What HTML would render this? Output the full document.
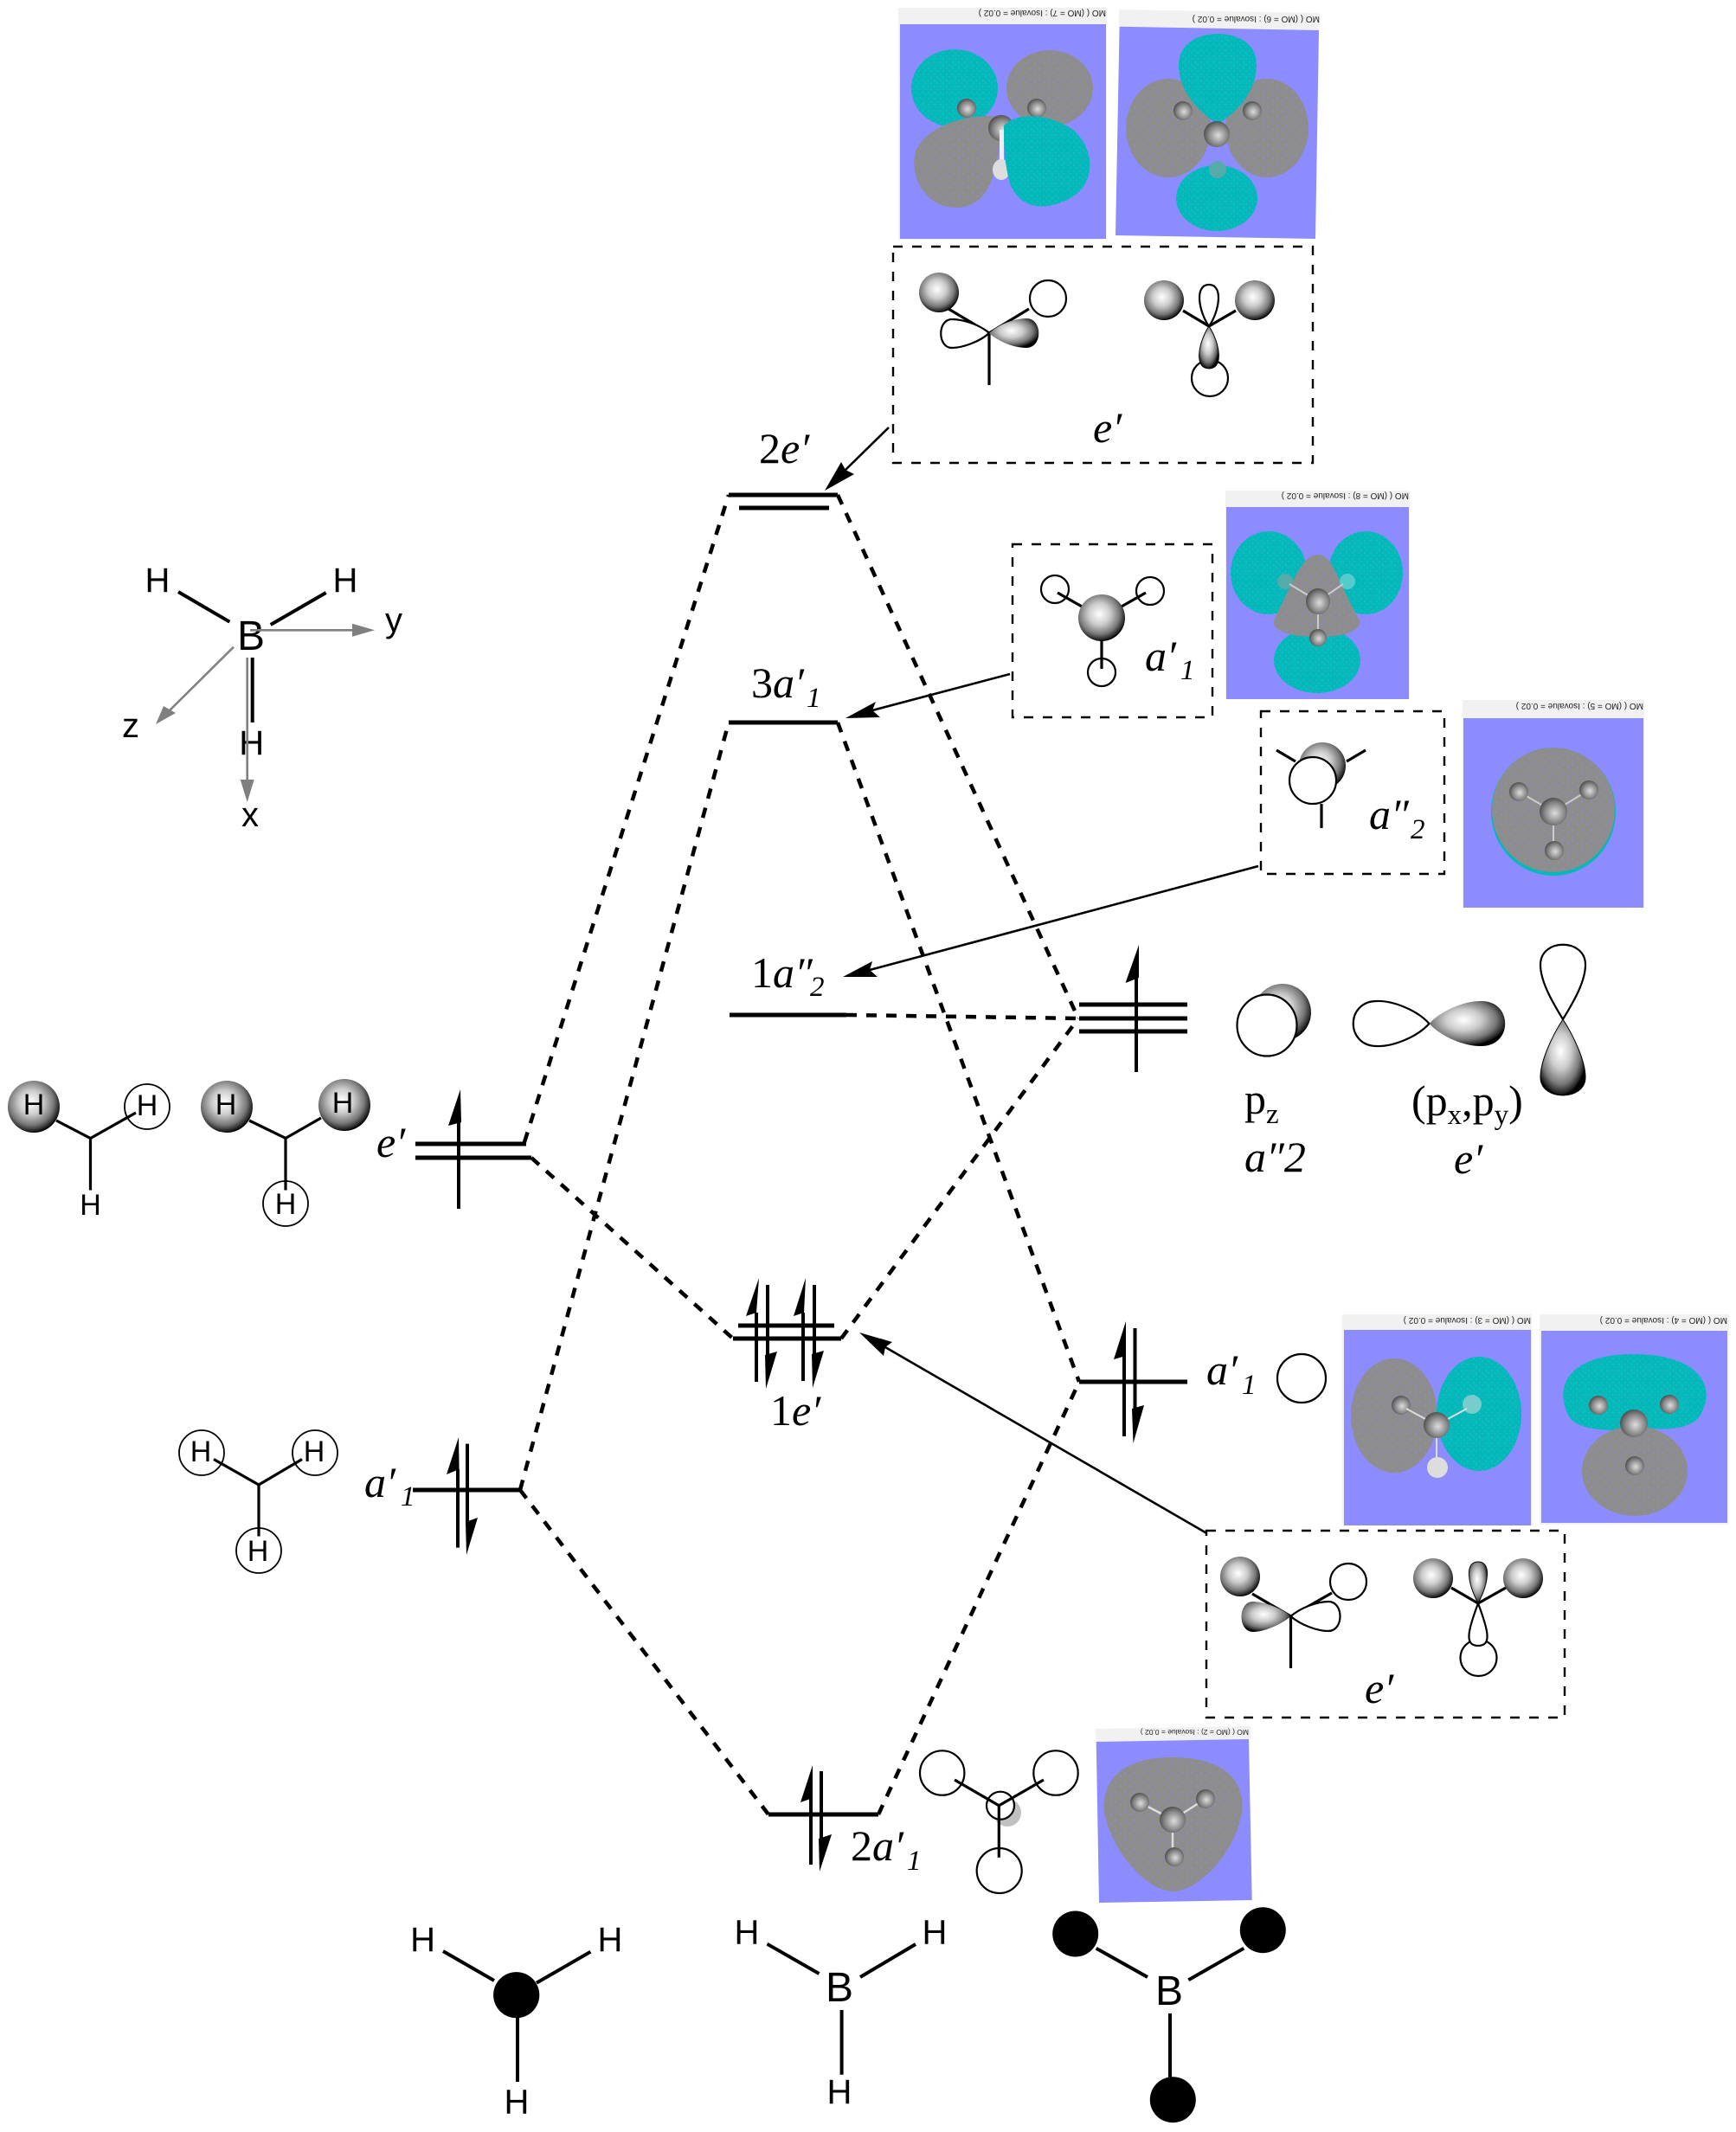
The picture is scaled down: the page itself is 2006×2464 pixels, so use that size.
<!DOCTYPE html>
<html><head><meta charset="utf-8"><title>BH3 MO diagram</title>
<style>
html,body{margin:0;padding:0;background:#fff}
svg{display:block}
text{fill:#000}
.s{font-family:"Liberation Serif",serif;font-size:50px}
.i{font-style:italic}
.sub{font-family:"Liberation Serif",serif;font-style:italic;font-size:33px}
.h{font-family:"Liberation Sans",sans-serif;font-size:34px;text-anchor:middle}
.l{font-family:"Liberation Sans",sans-serif;font-size:40px;text-anchor:middle}
.b{font-family:"Liberation Sans",sans-serif;font-size:48px;text-anchor:middle}
.mo{font-family:"Liberation Sans",sans-serif;font-size:10px;fill:#222}
.lv{stroke:#000;stroke-width:5;fill:none}
.st{stroke:#000;stroke-width:4;fill:none}
.bd{stroke:#000;stroke-width:3.2;fill:none}
.bk{stroke:#000;stroke-width:4;fill:none}
.da{stroke:#000;stroke-width:4.5;stroke-dasharray:12 11;fill:none}
.bx{stroke:#000;stroke-width:2.4;stroke-dasharray:11 11;fill:none}
.ar{stroke:#000;stroke-width:2.6;fill:none}
.gy{stroke:#808080;stroke-width:2.6;fill:none}
.wh{fill:#fff;stroke:#000;stroke-width:2.2}
</style></head>
<body>
<svg xmlns="http://www.w3.org/2000/svg" width="2006" height="2464" viewBox="0 0 2006 2464">
<defs>
<radialGradient id="ball" cx="0.45" cy="0.42" r="0.58">
<stop offset="0" stop-color="#fff"/><stop offset="0.4" stop-color="#ccc"/><stop offset="0.75" stop-color="#777"/><stop offset="0.95" stop-color="#222"/><stop offset="1" stop-color="#000"/>
</radialGradient>
<radialGradient id="atom" cx="0.55" cy="0.55" r="0.6">
<stop offset="0" stop-color="#ddd"/><stop offset="0.6" stop-color="#888"/><stop offset="1" stop-color="#444"/>
</radialGradient>
<pattern id="gp" width="11" height="11" patternUnits="userSpaceOnUse">
<rect width="11" height="11" fill="#8d8d8d"/><circle cx="2" cy="3" r=".7" fill="#8c8cff"/><circle cx="8" cy="7" r=".7" fill="#8c8cff"/>
</pattern>
<pattern id="tp" width="7" height="7" patternUnits="userSpaceOnUse">
<rect width="7" height="7" fill="#00b9b9"/><circle cx="2" cy="2" r=".8" fill="#55a8d8"/><circle cx="5" cy="5" r=".7" fill="#55a8d8"/>
</pattern>
</defs>

<!-- MO 7 -->
<rect x="1038" y="9" width="241" height="268" fill="#f1f1f1"/>
<rect x="1040" y="28" width="238" height="248" fill="#8c8cff"/>
<text class="mo" transform="translate(1278,12) rotate(180)">MO ( (MO = 7) : Isovalue = 0.02 )</text>
<ellipse cx="1103" cy="102" rx="50" ry="45" fill="url(#tp)"/>
<ellipse cx="1213" cy="102" rx="50" ry="44" fill="url(#gp)"/>
<circle cx="1117" cy="125" r="11" fill="url(#atom)"/>
<circle cx="1198" cy="125" r="11" fill="url(#atom)"/>
<path d="M1157,140 C1155,180 1150,240 1105,240 C1070,240 1050,205 1058,175 C1070,145 1120,130 1157,135Z" fill="url(#gp)"/>
<circle cx="1157" cy="148" r="15" fill="url(#atom)"/>
<rect x="1155" y="150" width="5" height="40" fill="#eee"/>
<ellipse cx="1157" cy="196" rx="10" ry="12" fill="#ddd"/>
<path d="M1160,145 C1175,130 1210,130 1240,150 C1268,175 1265,215 1235,230 C1205,245 1180,240 1168,215 C1160,190 1160,165 1160,145Z" fill="url(#tp)"/>

<!-- MO 6 -->
<polygon points="1293,11 1525,15 1524,35 1293,31" fill="#f1f1f1"/>
<polygon points="1293.6,30.7 1524,35 1520,276 1289,272" fill="#8c8cff"/>
<text class="mo" transform="translate(1525,19) rotate(180)">MO ( (MO = 6) : Isovalue = 0.02 )</text>
<ellipse cx="1350" cy="148" rx="49" ry="57" fill="url(#gp)"/>
<ellipse cx="1464" cy="148" rx="48" ry="57" fill="url(#gp)"/>
<circle cx="1367" cy="128" r="11" fill="url(#atom)"/>
<circle cx="1447" cy="128" r="11" fill="url(#atom)"/>
<path d="M1407,143 C1385,130 1362,105 1362,75 C1362,50 1385,39 1407,39 C1430,39 1452,50 1452,75 C1452,105 1430,130 1407,143Z" fill="url(#tp)"/>
<circle cx="1406" cy="155" r="15" fill="url(#atom)"/>
<ellipse cx="1406" cy="229" rx="47" ry="38" fill="url(#tp)"/>
<circle cx="1407" cy="196" r="10" fill="#5aa"/>

<!-- top e' box -->
<rect x="1032" y="285" width="485" height="250" class="bx"/>
<path d="M1143,385 L1096,357 M1143,385 L1189,357 M1143,385 V445" class="bd"/>
<circle cx="1085" cy="338" r="23" fill="url(#ball)"/>
<circle cx="1211" cy="345" r="21" class="wh"/>
<path d="M1143,385 C1132,375 1112,369 1100,369 C1083,369 1083,402 1100,402 C1112,402 1132,395 1143,385Z" class="wh"/>
<path d="M1143,385 C1154,375 1172,368 1186,368 C1205,368 1205,402 1186,402 C1172,402 1154,395 1143,385Z" fill="url(#ball)"/>
<path d="M1397,377 L1367,359 M1397,377 L1428,359" class="bd"/>
<circle cx="1345" cy="347" r="23" fill="url(#ball)"/>
<circle cx="1450" cy="347" r="23" fill="url(#ball)"/>
<circle cx="1398" cy="437" r="21" class="wh"/>
<path d="M1397,377 C1385,360 1380,329 1397,329 C1414,329 1409,360 1397,377Z" fill="#fff" stroke="#000" stroke-width="2.2"/>
<path d="M1397,377 C1385,395 1379,426 1397,426 C1415,426 1409,395 1397,377Z" fill="url(#ball)" stroke="#000"/>
<text class="s i" x="1263" y="511">e&#8242;</text>

<!-- MO 8 -->
<rect x="1416" y="567" width="213" height="241" fill="#f1f1f1"/>
<rect x="1417" y="586" width="211" height="222" fill="#8c8cff"/>
<text class="mo" transform="translate(1628,570) rotate(180)">MO ( (MO = 8) : Isovalue = 0.02 )</text>
<ellipse cx="1466" cy="662" rx="44" ry="48" fill="url(#tp)"/>
<ellipse cx="1578" cy="662" rx="43" ry="48" fill="url(#tp)"/>
<ellipse cx="1522" cy="763" rx="50" ry="38" fill="url(#tp)"/>
<path d="M1523,641 C1540,641 1545,670 1571,717 C1575,730 1545,738 1523,735 C1500,738 1468,730 1472,717 C1495,670 1505,641 1523,641Z" fill="url(#gp)"/>
<circle cx="1485" cy="672" r="9" fill="#5aa"/><circle cx="1557" cy="672" r="9" fill="#5cc"/>
<path d="M1523,695 L1490,675 M1523,695 L1552,675 M1523,695 V735" stroke="#ccc" stroke-width="2"/>
<ellipse cx="1523" cy="695" rx="14" ry="15" fill="url(#atom)"/>
<circle cx="1523" cy="737" r="10" fill="url(#atom)"/>

<!-- a'1 box -->
<rect x="1170" y="629" width="231" height="200" class="bx"/>
<circle cx="1219" cy="681" r="16" class="wh"/>
<circle cx="1329" cy="683" r="16" class="wh"/>
<circle cx="1273" cy="777" r="16" class="wh"/>
<path d="M1273,714 L1222,685 M1273,714 L1324,685 M1273,714 V773" class="bd"/>
<circle cx="1273" cy="714" r="27" fill="url(#ball)"/>
<text class="s i" x="1323" y="775">a&#8242;</text><text class="sub" x="1364" y="785">1</text>

<!-- a''2 box -->
<rect x="1457" y="822" width="212" height="188" class="bx"/>
<path d="M1475,867 L1497,880 M1578,867 L1556,880 M1527,929 V957" class="bd"/>
<circle cx="1528" cy="885" r="27" fill="url(#ball)"/>
<circle cx="1517" cy="902" r="27" class="wh"/>
<text class="s i" x="1582" y="958">a&#8243;</text><text class="sub" x="1630" y="969">2</text>

<!-- MO 5 -->
<rect x="1690" y="809" width="210" height="240" fill="#f1f1f1"/>
<rect x="1691" y="830" width="208" height="219" fill="#8c8cff"/>
<text class="mo" transform="translate(1899,813) rotate(180)">MO ( (MO = 5) : Isovalue = 0.02 )</text>
<ellipse cx="1795" cy="938" rx="72" ry="74" fill="#00b9b9"/>
<ellipse cx="1795" cy="936" rx="71" ry="72" fill="url(#gp)"/>
<path d="M1795,938 L1755,915 M1795,938 L1836,913 M1795,938 V983" stroke="#ccc" stroke-width="2"/>
<circle cx="1795" cy="938" r="16" fill="url(#atom)"/>
<circle cx="1755" cy="915" r="11" fill="url(#atom)"/>
<circle cx="1836" cy="913" r="11" fill="url(#atom)"/>
<circle cx="1796" cy="983" r="11" fill="url(#atom)"/>

<!-- dashed correlation lines -->
<path class="da" d="M606,1320 L842,572"/>
<path class="da" d="M614,1338 L847,1547"/>
<path class="da" d="M601,1722 L842,835"/>
<path class="da" d="M601,1722 L888,2097"/>
<path class="da" d="M968,572 L1246,1177"/>
<path class="da" d="M968,835 L1247,1597"/>
<path class="da" d="M972,1547 L1246,1177"/>
<path class="da" d="M1015,2097 L1247,1597"/>
<path class="da" d="M978,1173 L1246,1177"/>

<!-- central levels -->
<path class="lv" d="M842,572 H968 M854,587 H958"/>
<path class="lv" d="M842,835 H968"/>
<path class="lv" d="M843,1173 H978"/>
<path class="lv" d="M853,1532 H964 M847,1547 H972"/>
<path class="lv" d="M888,2097 H1015"/>
<!-- right levels -->
<path class="lv" d="M1247,1161 H1372 M1247,1177 H1372 M1247,1192 H1372"/>
<path class="lv" d="M1247,1597 H1372"/>
<!-- left levels -->
<path class="lv" d="M480,1322 H608 M480,1338 H614"/>
<path class="lv" d="M477,1722 H601"/>

<!-- electrons -->
<path class="st" d="M1313,1130 V1239"/><polygon points="1316,1092 1300.5,1136 1316,1130"/>
<path class="st" d="M1299,1565 V1660"/><polygon points="1301,1527 1287,1571 1301,1567"/>
<path class="st" d="M1311.5,1535 V1630"/><polygon points="1309.5,1668 1322,1624 1308,1628"/>
<path class="st" d="M530,1297 V1397"/><polygon points="532,1259 518,1301 533,1297"/>
<path class="st" d="M529,1698 V1788.6"/><polygon points="530,1661 516,1704 530.6,1698"/>
<path class="st" d="M540,1668.6 V1759"/><polygon points="539,1797 552,1754 538,1759"/>
<path class="st" d="M874,1517 V1597"/><polygon points="877,1477 862,1521 874,1517"/>
<path class="st" d="M887,1485 V1566"/><polygon points="885,1605 898,1562 884,1566"/>
<path class="st" d="M928,1517 V1596"/><polygon points="931,1477 917,1521 929,1517"/>
<path class="st" d="M941,1485 V1565"/><polygon points="939,1604 952,1561 938,1565"/>
<path class="st" d="M937,2078 V2155"/><polygon points="939,2040 925,2083 939,2078"/>
<path class="st" d="M949,2047 V2125"/><polygon points="947,2163 961,2120 946,2125"/>

<!-- long arrows -->
<path class="ar" d="M1027,494 L977,543"/><polygon points="953,567 987,548 977,543 972,534"/>
<path class="ar" d="M1167,779 L1008,821"/><polygon points="977,830 1017,829 1008,821 1012,811"/>
<path class="ar" d="M1454,1001 L1005,1121"/><polygon points="974,1129 1014,1129 1005,1121 1008,1111"/>
<path class="ar" d="M1394,1771.7 L1023,1557"/><polygon points="993,1540 1031,1551 1023,1557 1021,1567"/>

<!-- labels -->
<text class="s" x="877" y="535">2<tspan class="i">e&#8242;</tspan></text>
<text class="s" x="868" y="806">3<tspan class="i">a&#8242;</tspan></text><text class="sub" x="932" y="817">1</text>
<text class="s" x="868" y="1141">1<tspan class="i">a&#8243;</tspan></text><text class="sub" x="936" y="1151">2</text>
<text class="s" x="890" y="1647">1<tspan class="i">e&#8242;</tspan></text>
<text class="s" x="983" y="2150">2<tspan class="i">a&#8242;</tspan></text><text class="sub" x="1048" y="2161">1</text>
<text class="s i" x="435" y="1337">e&#8242;</text>
<text class="s i" x="421" y="1730">a&#8242;</text><text class="sub" x="463" y="1740">1</text>
<text class="s i" x="1394" y="1600">a&#8242;</text><text class="sub" x="1435" y="1611">1</text>

<!-- boron p orbitals -->
<circle cx="1482" cy="1170" r="33" fill="url(#ball)"/>
<ellipse cx="1464" cy="1185" rx="34.5" ry="35.5" class="wh"/>
<path d="M1651.5,1183 C1638,1168 1610,1156 1590,1157 C1555,1158 1555,1208 1590,1209 C1610,1210 1638,1198 1651.5,1183Z" class="wh"/>
<path d="M1651.5,1183 C1665,1168 1693,1156 1713,1157 C1748,1158 1748,1208 1713,1209 C1693,1210 1665,1198 1651.5,1183Z" fill="url(#ball)"/>
<path d="M1806,1178 C1795,1160 1780,1135 1780,1115 C1780,1084 1832,1084 1832,1115 C1832,1135 1817,1160 1806,1178Z" fill="#fff" stroke="#000" stroke-width="2.2"/>
<path d="M1806,1178 C1795,1195 1780,1225 1780,1245 C1780,1273 1832,1273 1832,1245 C1832,1225 1817,1195 1806,1178Z" fill="url(#ball)" stroke="#000"/>
<text class="s" x="1438" y="1287">p</text><text class="sub" style="font-style:normal" x="1463" y="1298">z</text>
<text class="s i" x="1438" y="1354">a&#8243;2</text>
<text class="s" x="1631" y="1289">(p<tspan font-size="33" dy="10">x</tspan><tspan dy="-10">,p</tspan><tspan font-size="33" dy="10">y</tspan><tspan dy="-10">)</tspan></text>
<text class="s i" x="1680" y="1356">e&#8242;</text>

<circle cx="1504" cy="1593" r="28" class="wh"/>

<!-- MO 3 -->
<rect x="1551" y="1519" width="219" height="244" fill="#f1f1f1"/>
<rect x="1553" y="1537" width="216" height="226" fill="#8c8cff"/>
<text class="mo" transform="translate(1769,1523) rotate(180)">MO ( (MO = 3) : Isovalue = 0.02 )</text>
<ellipse cx="1611" cy="1636" rx="50" ry="66" fill="url(#gp)"/>
<ellipse cx="1709" cy="1634" rx="49" ry="66" fill="url(#tp)"/>
<circle cx="1619" cy="1624" r="11" fill="url(#atom)"/>
<circle cx="1701" cy="1623" r="11" fill="#7cc"/>
<path d="M1660,1647 L1625,1628 M1660,1647 L1695,1628 M1660,1647 V1690" stroke="#ddd" stroke-width="2"/>
<circle cx="1660" cy="1647" r="15" fill="url(#atom)"/>
<ellipse cx="1661" cy="1696" rx="12" ry="12" fill="#ddd"/>

<!-- MO 4 -->
<rect x="1779" y="1519" width="219" height="243" fill="#f1f1f1"/>
<rect x="1781" y="1538" width="215" height="222" fill="#8c8cff"/>
<text class="mo" transform="translate(1996,1523) rotate(180)">MO ( (MO = 4) : Isovalue = 0.02 )</text>
<path d="M1888,1650 C1870,1655 1820,1655 1812,1635 C1795,1600 1815,1565 1888,1565 C1960,1565 1985,1600 1965,1635 C1955,1655 1905,1655 1888,1645Z" fill="url(#tp)"/>
<ellipse cx="1889" cy="1700" rx="61" ry="52" fill="url(#gp)"/>
<circle cx="1847" cy="1624" r="11" fill="url(#atom)"/>
<circle cx="1929" cy="1623" r="11" fill="url(#atom)"/>
<circle cx="1888" cy="1645" r="16" fill="url(#atom)"/>
<circle cx="1889" cy="1694" r="11" fill="url(#atom)"/>

<!-- bottom e' box -->
<rect x="1394" y="1769" width="414" height="216" class="bx"/>
<path d="M1491.5,1868 L1447,1842 M1491.5,1868 L1539,1841 M1491.5,1868 V1928" class="bd"/>
<circle cx="1433" cy="1822" r="23" fill="url(#ball)"/>
<circle cx="1558" cy="1828" r="21" class="wh"/>
<path d="M1491.5,1868 C1480,1858 1460,1851 1448,1851 C1430,1851 1430,1886 1448,1886 C1460,1886 1480,1878 1491.5,1868Z" fill="url(#ball)"/>
<path d="M1491.5,1868 C1503,1858 1522,1851 1535,1851 C1553,1851 1553,1885 1535,1885 C1522,1885 1503,1878 1491.5,1868Z" class="wh"/>
<path d="M1708,1853 L1677,1835 M1708,1853 L1740,1835" class="bd"/>
<circle cx="1656" cy="1824" r="23" fill="url(#ball)"/>
<circle cx="1760" cy="1824" r="23" fill="url(#ball)"/>
<circle cx="1708.5" cy="1916" r="21" class="wh"/>
<path d="M1708,1853 C1696,1885 1692,1902 1708,1902 C1724,1902 1720,1885 1708,1853Z" fill="#fff" stroke="#000" stroke-width="2.2"/>
<path d="M1708,1853 C1696,1830 1692,1805 1708,1805 C1724,1805 1720,1830 1708,1853Z" fill="url(#ball)" stroke="#000"/>
<text class="s i" x="1577" y="1968">e&#8242;</text>

<!-- 2a'1 orbital -->
<circle cx="1088.7" cy="2049" r="25.7" class="wh"/>
<circle cx="1220" cy="2049" r="25.7" class="wh"/>
<circle cx="1154.7" cy="2162" r="26" class="wh"/>
<circle cx="1164" cy="2095" r="16" fill="#c0c0c0"/>
<circle cx="1156" cy="2086.7" r="16" class="wh"/>
<path d="M1154.3,2086.7 L1103,2057 M1154.3,2086.7 L1206,2057 M1154.3,2086.7 V2146.7" class="bd"/>

<!-- MO 2 -->
<polygon points="1265,1998 1445,1995 1445,2010 1267,2013" fill="#f1f1f1"/>
<polygon points="1266.7,2013 1443,2010 1446.7,2196 1270,2199" fill="#8c8cff"/>
<text class="mo" transform="translate(1443,1999) rotate(180)" style="font-size:8.5px">MO ( (MO = 2) : Isovalue = 0.02 )</text>
<path d="M1355,2031 C1410,2031 1440,2055 1435,2095 C1428,2140 1385,2186 1356,2186 C1325,2186 1285,2140 1276,2095 C1272,2055 1300,2031 1355,2031Z" fill="url(#gp)"/>
<path d="M1355,2103 L1317,2083 M1355,2103 L1393,2079 M1355,2103 V2146" stroke="#ddd" stroke-width="2.5"/>
<circle cx="1355" cy="2103" r="15" fill="url(#atom)"/>
<circle cx="1317" cy="2083" r="11" fill="url(#atom)"/>
<circle cx="1393" cy="2079" r="11" fill="url(#atom)"/>
<circle cx="1357" cy="2146" r="11" fill="url(#atom)"/>

<!-- left fragments -->
<path class="bd" d="M65,1295 L104.5,1315.5 L157,1286 M104.5,1315.5 V1375.5"/>
<circle cx="39" cy="1279" r="30" fill="url(#ball)"/>
<circle cx="170" cy="1279" r="26" fill="none" stroke="#000" stroke-width="1.8"/>
<text class="h" x="39" y="1288">H</text><text class="h" x="170" y="1289">H</text><text class="h" x="104.5" y="1404">H</text>
<path class="bd" d="M288,1295 L330,1315.5 L371,1292 M330,1315.5 V1375.5"/>
<circle cx="262" cy="1279" r="30" fill="url(#ball)"/>
<circle cx="398" cy="1277" r="30" fill="url(#ball)"/>
<circle cx="330" cy="1391" r="26" fill="none" stroke="#000" stroke-width="1.8"/>
<text class="h" x="261" y="1288">H</text><text class="h" x="396" y="1286">H</text><text class="h" x="330" y="1403">H</text>
<path class="bd" d="M247,1686.5 L299,1716 L349,1686.5 M299,1716 V1775.5"/>
<circle cx="233" cy="1679" r="26" fill="none" stroke="#000" stroke-width="1.8"/>
<circle cx="364" cy="1679" r="26" fill="none" stroke="#000" stroke-width="1.8"/>
<circle cx="299" cy="1792" r="26" fill="none" stroke="#000" stroke-width="1.8"/>
<text class="h" x="232" y="1689">H</text><text class="h" x="363" y="1689">H</text><text class="h" x="298" y="1804">H</text>

<!-- axes molecule -->
<path class="bk" d="M206,684 L265.3,718.7 M376.7,685 L312.7,722 M291.7,760 V835"/>
<text class="b" x="290" y="751">B</text>
<text class="l" x="182" y="684">H</text><text class="l" x="399" y="684">H</text><text class="l" x="290.7" y="872">H</text>
<path class="gy" d="M289,728.3 H410 M270,747.7 L195,822 M285.7,760 V905"/>
<polygon fill="#808080" points="433,728.3 407,720.8 407,735.8"/>
<polygon fill="#808080" points="180,837 203,824 189,816"/>
<polygon fill="#808080" points="285.7,927 277.7,901 293.7,901"/>
<text class="l" x="455" y="730">y</text><text class="l" x="151" y="852">z</text><text class="l" x="289" y="955">x</text>

<!-- bottom molecules -->
<path class="bk" d="M512,2255 L571,2289 M682.4,2255.7 L620,2291.7 M598,2331.7 V2406"/>
<circle cx="596.7" cy="2305.7" r="26.6" fill="#000"/>
<text class="l" x="488.6" y="2255">H</text><text class="l" x="705" y="2255">H</text><text class="l" x="597" y="2442.7">H</text>
<path class="bk" d="M886.5,2246.7 L946.5,2281 M1058,2247 L994,2285 M972.6,2323 V2397.7"/>
<text class="b" x="970" y="2313">B</text>
<text class="l" x="863" y="2246.7">H</text><text class="l" x="1080" y="2246.7">H</text><text class="l" x="970" y="2431">H</text>
<path class="bk" d="M1266.7,2251.7 L1326,2285 M1437.3,2251.7 L1373.3,2288.3 M1352,2327 V2401.7"/>
<circle cx="1242.7" cy="2235" r="26.5" fill="#000"/>
<circle cx="1459.3" cy="2230.7" r="26.5" fill="#000"/>
<circle cx="1355.3" cy="2426.7" r="26.5" fill="#000"/>
<text class="b" x="1351" y="2317">B</text>
</svg>
</body></html>
